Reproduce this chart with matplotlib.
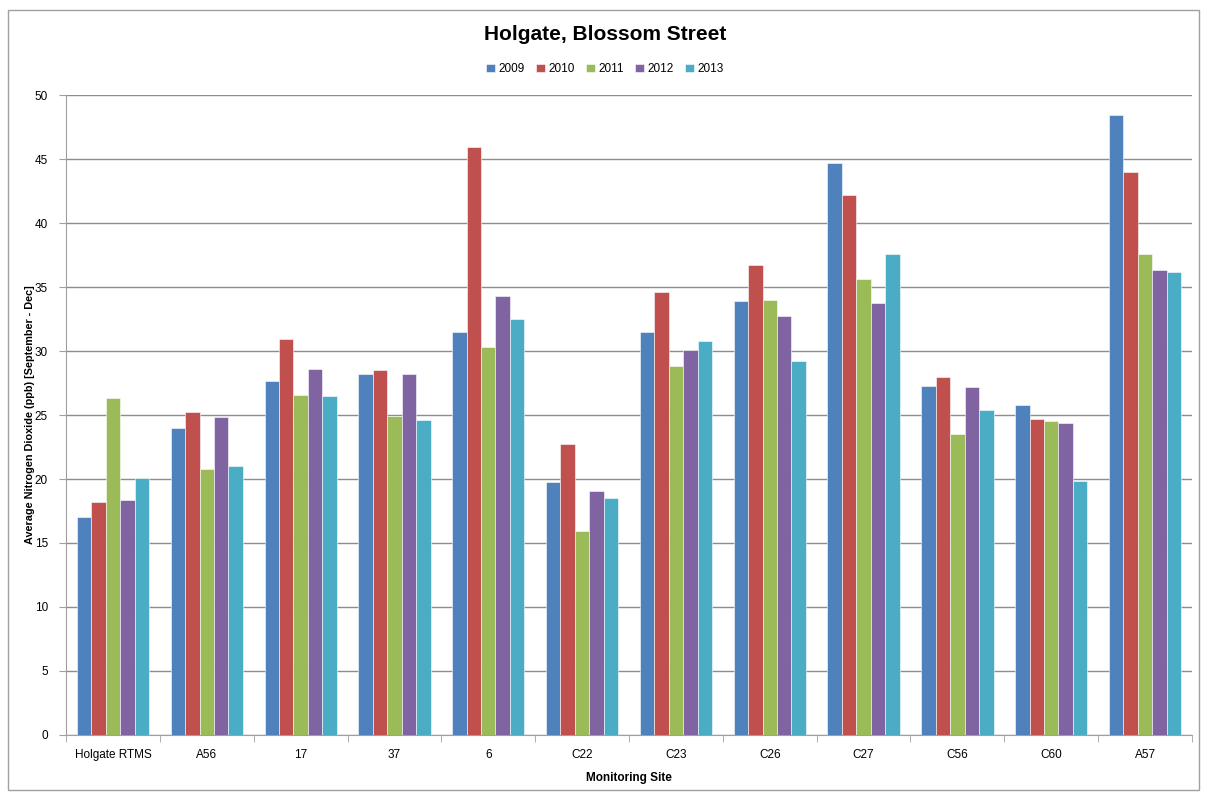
import matplotlib
matplotlib.use("Agg")
import matplotlib.pyplot as plt
import numpy as np
from matplotlib.patches import Rectangle

sites = ["Holgate RTMS", "A56", "17", "37", "6", "C22", "C23", "C26", "C27", "C56", "C60", "A57"]
years = ["2009", "2010", "2011", "2012", "2013"]
v2009 = [17.0, 24.0, 27.65, 28.2, 31.45, 19.8, 31.5, 33.9, 44.7, 27.25, 25.8, 48.45]
v2010 = [18.2, 25.25, 30.9, 28.5, 45.95, 22.7, 34.6, 36.7, 42.2, 27.95, 24.7, 44.0]
v2011 = [26.3, 20.75, 26.55, 24.9, 30.3, 15.9, 28.8, 34.0, 35.6, 23.5, 24.5, 37.6]
v2012 = [18.35, 24.85, 28.6, 28.2, 34.3, 19.1, 30.05, 32.75, 33.75, 27.2, 24.35, 36.3]
v2013 = [20.05, 21.05, 26.5, 24.6, 32.5, 18.5, 30.8, 29.2, 37.6, 25.4, 19.85, 36.15]
series = [v2009, v2010, v2011, v2012, v2013]
colors = ["#4F81BD", "#C0504D", "#9BBB59", "#8064A2", "#4BACC6"]

plt.rcParams['font.family'] = ['Liberation Sans', 'DejaVu Sans']

fig = plt.figure(figsize=(12.05, 7.92), dpi=100)
ax = fig.add_axes([0.0548, 0.072, 0.9344, 0.808])

n = len(series)
w = 1.0 / 6.5
x = np.arange(len(sites))
for i, (vals, c, yr) in enumerate(zip(series, colors, years)):
    ax.bar(x + (i - (n - 1) / 2) * w, vals, width=w, color=c, label=yr,
           edgecolor='white', linewidth=0.4, zorder=3)

ax.set_xlim(-0.5, len(sites) - 0.5)
ax.set_ylim(0, 50)
ax.set_yticks(np.arange(0, 51, 5))
ax.yaxis.grid(True, color='#8C8C8C', linewidth=1.0, zorder=0)
ax.set_axisbelow(True)
for s in ['top', 'right']:
    ax.spines[s].set_visible(False)
ax.spines['left'].set_color('#A0A0A0')
ax.spines['bottom'].set_color('#A0A0A0')
ax.tick_params(axis='y', length=5, color='#A0A0A0', labelsize=8.5, pad=8)
ax.set_xticks(x)
ax.set_xticklabels(sites, fontsize=8.5)
ax.tick_params(axis='x', length=0, pad=10)
ax.set_xticks(np.arange(-0.5, len(sites), 1.0), minor=True)
ax.tick_params(axis='x', which='minor', length=5, color='#A0A0A0')

ax.set_xlabel("Monitoring Site", fontsize=8.5, fontweight='bold', labelpad=8)
ax.set_ylabel("Average Nitrogen Dioxide (ppb) [September - Dec]", fontsize=7.8,
              fontweight='bold', labelpad=12)
ax.yaxis.set_label_coords(-0.0275, 0.5)

fig.text(0.502, 0.957, "Holgate, Blossom Street", ha='center', va='center',
         fontsize=15, fontweight='bold')
leg = fig.legend(loc='center', bbox_to_anchor=(0.502, 0.913), ncol=5, frameon=False,
                 fontsize=8.5, handlelength=0.7, handleheight=0.7, handletextpad=0.3,
                 columnspacing=1.0)

fig.patches.append(Rectangle((0.007, 0.003), 0.988, 0.985, transform=fig.transFigure,
                             fill=False, edgecolor='#A0A0A0', linewidth=1.0))

fig.savefig("out.png", dpi=100)
